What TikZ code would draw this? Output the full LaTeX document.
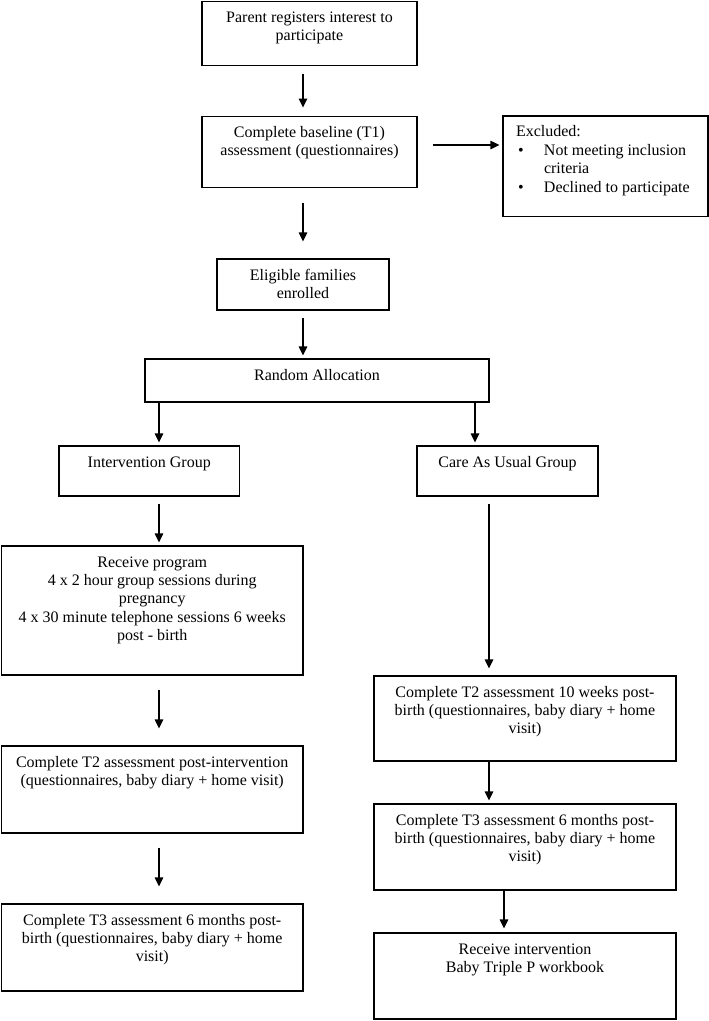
\documentclass[tikz,border=0pt]{standalone}
\usepackage{fontspec}
\setmainfont{Liberation Serif}
\usetikzlibrary{arrows.meta}
\newcommand{\bxtext}[3]{\parbox[c][#2][t]{#1}{\centering\rule{0pt}{21pt}#3\par}}
\begin{document}
\begin{tikzpicture}[x=1pt,y=-1pt,
  every node/.style={font=\fontsize{16pt}{18.4pt}\selectfont},
  box/.style={draw, line width=1.2pt, inner sep=0pt},
  arr/.style={line width=1.2pt, -{Triangle[length=9pt,width=8.5pt]}}]
\useasboundingbox (0,0) rectangle (709,1021);

\node[box] (b1) at (309.5,33.5) {\bxtext{215pt}{64.4pt}{Parent registers interest to\\participate}};
\node[box] (b2) at (309.5,152) {\bxtext{215pt}{71.7pt}{Complete baseline (T1)\\assessment (questionnaires)}};
\node[box] (ex) at (605.5,166.3) {\parbox[c][100.7pt][t]{205pt}{\raggedright\rule{0pt}{21pt}\hspace*{13pt}Excluded:\\
\hspace*{15pt}\makebox[26pt][l]{•}Not meeting inclusion\\
\hspace*{41pt}criteria\\
\hspace*{15pt}\makebox[26pt][l]{•}Declined to participate\par}};
\node[box] (el) at (303,284.5) {\bxtext{172pt}{51pt}{Eligible families\\enrolled}};
\node[box] (ra) at (317,380.5) {\bxtext{344pt}{43pt}{Random Allocation}};
\node[box] (ig) at (149.25,471) {\bxtext{180.5pt}{50pt}{Intervention Group}};
\node[box] (cg) at (507.5,471) {\bxtext{181pt}{50pt}{Care As Usual Group}};
\node[box] (rp) at (152.2,610.5) {\bxtext{301.6pt}{129pt}{Receive program\\4 x 2 hour group sessions during\\pregnancy\\4 x 30 minute telephone sessions 6 weeks\\post - birth}};
\node[box] (lt2) at (152.2,789.5) {\bxtext{301.6pt}{87pt}{Complete T2 assessment post-intervention\\(questionnaires, baby diary + home visit)}};
\node[box] (lt3) at (152.2,947.5) {\bxtext{301.6pt}{87pt}{Complete T3 assessment 6 months post-\\birth (questionnaires, baby diary + home\\visit)}};
\node[box] (ct2) at (525,718.5) {\bxtext{302pt}{85pt}{Complete T2 assessment 10 weeks post-\\birth (questionnaires, baby diary + home\\visit)}};
\node[box] (ct3) at (525,847) {\bxtext{302pt}{86pt}{Complete T3 assessment 6 months post-\\birth (questionnaires, baby diary + home\\visit)}};
\node[box] (ri) at (525,976) {\bxtext{302pt}{86pt}{Receive intervention\\Baby Triple P workbook}};

\draw[arr] ([xshift=-6.5pt,yshift=-7.3pt]b1.south) -- ([xshift=-6.5pt,yshift=8pt]b2.north);
\draw[arr] ([xshift=15pt,yshift=7pt]b2.east) -- ([xshift=-3pt,yshift=21.3pt]ex.west);
\draw[arr] ([xshift=-6.5pt,yshift=-14.3pt]b2.south) -- ([yshift=17pt]el.north);
\draw[arr] ([yshift=-7pt]el.south) -- ([xshift=-14pt,yshift=3pt]ra.north);
\draw[arr] ([xshift=-158pt]ra.south) -- ([xshift=9.75pt,yshift=3pt]ig.north);
\draw[arr] ([xshift=158pt]ra.south) -- ([xshift=-32.5pt,yshift=3pt]cg.north);
\draw[arr] ([xshift=9.75pt,yshift=-7pt]ig.south) -- ([xshift=6.8pt,yshift=3pt]rp.north);
\draw[arr] ([xshift=-18.5pt,yshift=-7pt]cg.south) -- ([xshift=-36pt,yshift=7pt]ct2.north);
\draw[arr] ([xshift=6.8pt,yshift=-14pt]rp.south) -- ([xshift=6.8pt,yshift=17pt]lt2.north);
\draw[arr] ([xshift=6.8pt,yshift=-14pt]lt2.south) -- ([xshift=6.8pt,yshift=17pt]lt3.north);
\draw[arr] ([xshift=-36pt]ct2.south) -- ([xshift=-36pt,yshift=3pt]ct3.north);
\draw[arr] ([xshift=-21pt]ct3.south) -- ([xshift=-21pt,yshift=4pt]ri.north);
\end{tikzpicture}
\end{document}
